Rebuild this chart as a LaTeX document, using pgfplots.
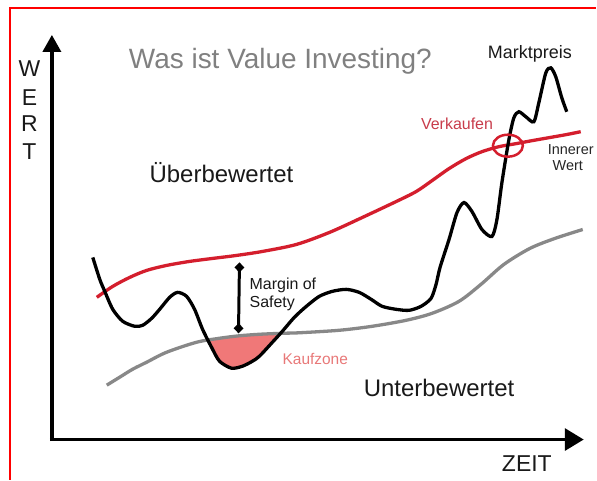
\documentclass[border=0pt]{standalone}
\usepackage{pgfplots}
\pgfplotsset{compat=1.18}
\usepackage{pgfplotstable}
\usepgfplotslibrary{fillbetween}
\usetikzlibrary{arrows.meta}
\usepackage{fontspec}
\setmainfont{Liberation Sans}
\definecolor{ivred}{RGB}{212,30,45}
\definecolor{sellred}{RGB}{200,60,75}
\definecolor{zonefill}{RGB}{240,120,120}
\definecolor{zonetext}{RGB}{232,120,120}
\definecolor{midgray}{RGB}{136,136,136}
\definecolor{titlegray}{RGB}{128,128,128}

\pgfplotstableread{
x y
93 258
100 280
105 292
113 310
123 322
135 327
143 326
152 319
160 310
170 298
178 293
187 297
195 310
203 330
212 348
220 362
232 369
243 367
253 362
260 357
273 343
283 332
295 318
307 307
320 297
333 292
347 290
360 293
372 300
383 307
397 310
410 311
422 307
432 299
437 285
441 268
450 240
458 213
465 203
473 212
483 230
493 237
498 220
503 183
510 140
515 118
520 112
527 117
535 122
540 103
547 73
552 68
557 77
563 98
568 112
}\marketprice

\pgfplotstableread{
x y
97 298
113 287
130 278
147 271
167 266
190 262
213 259
237 256
263 252
297 245
330 233
363 218
397 202
417 192
433 181
450 169
467 159
483 152
500 147
517 144
533 141
550 138
567 135
582 132
}\innervalue

\pgfplotstableread{
x y
107 386
120 378
133 370
147 363
167 353
197 343
220 339
240 336.5
260 335
283 334
300 333.5
340 331
373 327
407 321
433 314
460 302
482 285
505 265
531 249
556 239
584 230
}\grayline

\begin{document}
\begin{tikzpicture}
\begin{axis}[
  width=597pt, height=481pt, scale only axis,
  xmin=0, xmax=597, ymin=0, ymax=481,
  y dir=reverse,
  hide axis, clip=false,
]
% bounding box
\addplot[draw=none] coordinates {(0,0) (597,481)};
% red frame
\addplot[red, line width=2pt] coordinates {(10,481) (10,8) (597,8)};

% invisible paths for the buy zone
\addplot[draw=none, name path=mp] table[x=x,y=y] {\marketprice};
\addplot[draw=none, name path=gl] table[x=x,y=y] {\grayline};
\addplot[zonefill] fill between[of=mp and gl, soft clip={domain=207:284}];

% axes arrows
\addplot[black, line width=3.5pt, -{Triangle[length=17pt,width=18pt]}] coordinates {(52,442) (52,35)};
\addplot[black, line width=3.5pt, -{Triangle[length=19pt,width=22pt]}] coordinates {(50,440.5) (585,440.5)};

% curves
\addplot[midgray, line width=3.3pt, smooth, tension=0.5] table[x=x,y=y] {\grayline};
\addplot[ivred, line width=3.3pt, smooth, tension=0.5] table[x=x,y=y] {\innervalue};
\addplot[black, line width=3.3pt, smooth, tension=0.45] table[x=x,y=y] {\marketprice};

% sell circle
\draw[ivred, line width=2.5pt] (axis cs:509,146) ellipse [x radius=15, y radius=11];

% margin of safety
\addplot[black, line width=3pt, {Diamond[length=10pt,width=10pt]}-{Diamond[length=10pt,width=10pt]}] coordinates {(240,263) (239,334)};

% texts
\node[anchor=base, text=titlegray, font=\fontsize{28}{30}\selectfont] at (axis cs:281,69) {Was ist Value Investing?};
\node[anchor=base, text=black!90, font=\fontsize{23}{26}\selectfont] at (axis cs:29.5,77) {W};
\node[anchor=base, text=black!90, font=\fontsize{23}{26}\selectfont] at (axis cs:29.5,106) {E};
\node[anchor=base, text=black!90, font=\fontsize{23}{26}\selectfont] at (axis cs:29.5,132) {R};
\node[anchor=base, text=black!90, font=\fontsize{23}{26}\selectfont] at (axis cs:29.5,160) {T};
\node[anchor=base, text=black!90, font=\fontsize{24}{26}\selectfont] at (axis cs:222,183) {Überbewertet};
\node[anchor=base, text=black!90, font=\fontsize{24}{26}\selectfont] at (axis cs:440,397) {Unterbewertet};
\node[anchor=base, text=black!90, font=\fontsize{23}{26}\selectfont] at (axis cs:528,473) {ZEIT};
\node[anchor=base, text=black!90, font=\fontsize{18}{20}\selectfont] at (axis cs:531,59) {Marktpreis};
\node[anchor=base, text=sellred, font=\fontsize{16}{18}\selectfont] at (axis cs:458,130) {Verkaufen};
\node[anchor=base, text=black!85, font=\fontsize{14.5}{16}\selectfont] at (axis cs:572,155) {Innerer};
\node[anchor=base, text=black!85, font=\fontsize{14.5}{16}\selectfont] at (axis cs:569,171) {Wert};
\node[anchor=base west, text=black!90, font=\fontsize{16}{18}\selectfont, inner sep=0pt] at (axis cs:250,290) {Margin of};
\node[anchor=base west, text=black!90, font=\fontsize{16}{18}\selectfont, inner sep=0pt] at (axis cs:250,308) {Safety};
\node[anchor=base west, text=zonetext, font=\fontsize{15.5}{18}\selectfont, inner sep=0pt] at (axis cs:283,365) {Kaufzone};
\end{axis}
\end{tikzpicture}
\end{document}
